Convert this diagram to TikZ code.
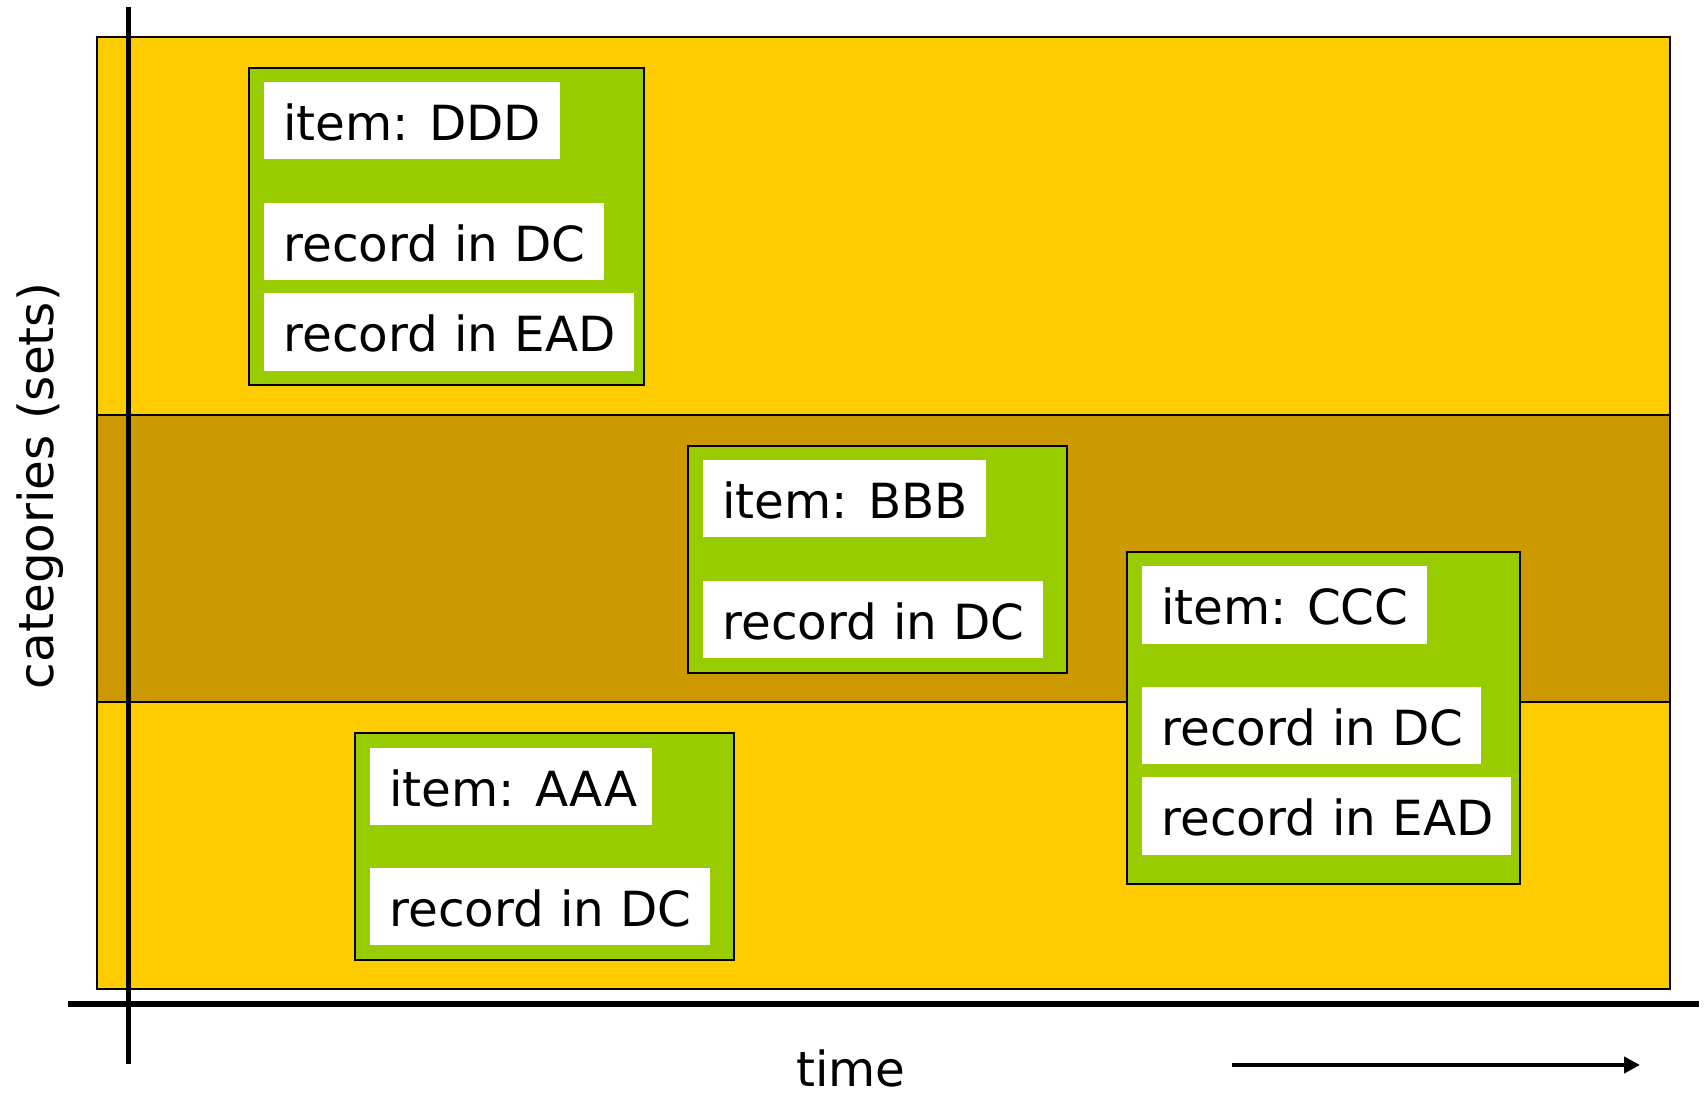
\documentclass[tikz,border=0pt]{standalone}
\usepackage{fontspec}
\setmainfont{DejaVu Sans}
\usetikzlibrary{arrows.meta}
\definecolor{bandyellow}{HTML}{FFCC00}
\definecolor{banddark}{HTML}{CC9900}
\definecolor{itemgreen}{HTML}{99CC00}
\newcommand{\itemlbl}[1]{\mbox{item:\kern2pt\ #1}}
\begin{document}
\begin{tikzpicture}[x=0.5pt,y=-0.5pt,
  band/.style={draw=black,line width=0.75pt},
  gbox/.style={draw=black,line width=0.9pt,fill=itemgreen,anchor=north west,inner sep=0pt,minimum height=#1},
  wbox/.style={fill=white,anchor=north west,inner xsep=9.5pt,inner ysep=0pt,minimum height=38.5pt,
    text height=19.5pt,text depth=0pt,align=left,text width=#1,font=\fontsize{24.2pt}{26pt}\selectfont},
  axis/.style={line width=2.75pt,black},
  lbl/.style={font=\fontsize{24.2pt}{26pt}\selectfont,inner sep=0pt}]
\useasboundingbox (0,0) rectangle (1708,1095);
\fill[white] (0,0) rectangle (1708,1095);
% bands
\draw[band,fill=bandyellow] (97,37) rectangle (1670,415);
\draw[band,fill=banddark] (97,415) rectangle (1670,702);
\draw[band,fill=bandyellow] (97,702) rectangle (1670,989);
% axes
\coordinate (vtop) at (128.5,7);
\coordinate (vbot) at (128.5,1064);
\coordinate (hleft) at (68,1004);
\coordinate (hright) at (1699,1004);
\draw[axis] (vtop) -- (vbot);
\draw[axis] (hleft) -- (hright);
% DDD
\node[gbox=158.5pt,minimum width=197.5pt] (gD) at (248,67) {};
\node[wbox=129pt] (dItem) at (264,82) {\itemlbl{DDD}};
\node[wbox=151pt] (dDC) at (264,203) {\mbox{record in DC}};
\node[wbox=166pt,minimum height=39pt] (dEAD) at (264,293) {\mbox{record in EAD}};
% BBB
\node[gbox=113.5pt,minimum width=189.5pt] (gB) at (687,445) {};
\node[wbox=122.5pt] (bItem) at (703,460) {\itemlbl{BBB}};
\node[wbox=151pt] (bDC) at (703,581) {\mbox{record in DC}};
% CCC
\node[gbox=166pt,minimum width=196.5pt] (gC) at (1126,551) {};
\node[wbox=123.5pt,minimum height=39pt] (cItem) at (1142,566) {\itemlbl{CCC}};
\node[wbox=150.5pt] (cDC) at (1142,687) {\mbox{record in DC}};
\node[wbox=165.5pt,minimum height=39pt] (cEAD) at (1142,777) {\mbox{record in EAD}};
% AAA
\node[gbox=113.5pt,minimum width=189.5pt] (gA) at (354,732) {};
\node[wbox=122pt] (aItem) at (370,748) {\itemlbl{AAA}};
\node[wbox=151pt] (aDC) at (370,868) {\mbox{record in DC}};
% labels
\node[lbl,anchor=base] (timelbl) at (851,1086) {time};
\node[lbl,anchor=base,rotate=90] (catlbl) at (54,486) {categories (sets)};
% time arrow
\coordinate (tstart) at (1232,1065);
\coordinate (tend) at (1640,1065);
\draw[line width=2pt,-{Triangle[length=8pt,width=8pt]}] (tstart) -- (tend);
\end{tikzpicture}
\end{document}
